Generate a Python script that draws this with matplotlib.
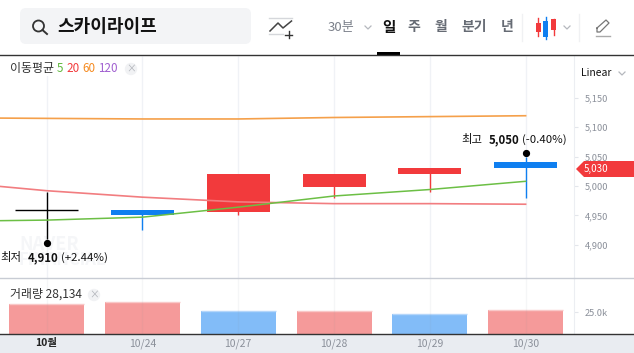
import matplotlib
matplotlib.use("Agg")
import matplotlib.pyplot as plt
from matplotlib.patches import FancyBboxPatch, Polygon, Circle, Rectangle
from matplotlib.transforms import offset_copy

plt.rcParams['font.family'] = ['Noto Sans CJK KR', 'DejaVu Sans']

# datos
fechas = ['10월', '10/24', '10/27', '10/28', '10/29', '10/30']
apertura = [4960, 4960, 4955, 4998, 5020, 5040]
cierre = [4960, 4950, 5020, 5020, 5030, 5030]
maximo = [4990, 4960, 5020, 5020, 5030, 5050]
minimo = [4910, 4925, 4950, 4980, 4990, 4980]
volumen = [34900, 36900, 26200, 26500, 23000, 28134]

dias_ma = [-1, 0, 1, 2, 3, 4, 5]
ma5 = [4940, 4942, 4947, 4964, 4983, 4994, 5008]
ma20 = [5007, 4992, 4981, 4973, 4970, 4970, 4969]
ma60 = [5116, 5115, 5114, 5114, 5116.5, 5118, 5119.5]

ticks_precio = [4900, 4950, 5000, 5050, 5100, 5150]
ticks_volumen = [25000]
labels_volumen = ['25.0k']

ROJO = '#f23a3c'
AZUL = '#0f7ff0'
GRIS = '#8b909a'

W, H = 634, 353
fig = plt.figure(figsize=(W / 100, H / 100), dpi=100, facecolor='white')


def caja(x0, y0, x1, y1):
    # pixeles de la imagen a fraccion de figura
    return [x0 / W, 1 - y1 / H, (x1 - x0) / W, (y1 - y0) / H]


# capa de fondo con la interfaz, en pixeles
ui = fig.add_axes([0, 0, 1, 1], zorder=0)
ui.set_xlim(0, W)
ui.set_ylim(H, 0)
ui.axis('off')

ui.add_patch(FancyBboxPatch((26, 14), 219, 24, boxstyle='round,pad=6,rounding_size=6',
                            fc='#f3f4f6', ec='none'))
ui.add_patch(Circle((38.5, 26), 5.5, fc='none', ec='#333333', lw=1.3))
ui.plot([42.5, 47], [30, 34], color='#333333', lw=1.4)
ui.text(57, 27, '스카이라이프', fontsize=13, fontweight='bold', va='center', color='#111111')

# icono de indicador
ui.plot([269, 292], [17.5, 17.5], color='#d5d7db', lw=1)
ui.plot([269, 283], [33.5, 33.5], color='#d5d7db', lw=1)
ui.plot([270, 278, 283, 291.5], [31, 23, 28, 21], color='#444444', lw=1.1)
ui.plot([285, 292], [34.5, 34.5], color='#333333', lw=1)
ui.plot([288.5, 288.5], [31, 38], color='#333333', lw=1)

ui.text(328, 27, '30분', fontsize=9.5, va='center', color='#7b808a')
ui.plot([365, 368, 371], [26, 29, 26], color='#b5b8be', lw=0.9)
ui.text(389, 27, '일', fontsize=10.5, fontweight='bold', ha='center', va='center', color='#111111')
ui.text(413.5, 27, '주', fontsize=10, fontweight='bold', ha='center', va='center', color='#666b74')
ui.text(441, 27, '월', fontsize=10, fontweight='bold', ha='center', va='center', color='#666b74')
ui.text(474, 27, '분기', fontsize=10, fontweight='bold', ha='center', va='center', color='#666b74')
ui.text(507.5, 27, '년', fontsize=10, fontweight='bold', ha='center', va='center', color='#666b74')
ui.plot([521.5, 521.5], [14, 41], color='#f0f1f3', lw=1)
ui.plot([578.5, 578.5], [14, 41], color='#f0f1f3', lw=1)

# icono de velas
ui.plot([538, 538], [18, 36], color=ROJO, lw=1)
ui.add_patch(Rectangle((536, 23), 5, 9, fc=ROJO, ec='none'))
ui.plot([545.5, 545.5], [17, 39], color=AZUL, lw=1)
ui.add_patch(Rectangle((543, 21), 5, 16, fc=AZUL, ec='none'))
ui.plot([553.5, 553.5], [19, 35], color=ROJO, lw=1)
ui.add_patch(Rectangle((551, 19), 5, 11, fc=ROJO, ec='none'))
ui.plot([564, 567, 570], [26, 29, 26], color='#b5b8be', lw=0.9)

# lapiz
ui.plot([596, 610], [35.5, 35.5], color='#aaaaaa', lw=1)
ui.plot([597, 597, 600, 609, 606, 597], [28, 32, 32, 23, 20, 28], color='#777777', lw=0.9)

# franja del eje x
ui.add_patch(Rectangle((0, 333.5), W, H - 333.5, fc='#e9ecf1', ec='none'))

# panel de precios
ax = fig.add_axes(caja(0, 55.5, 574, 278), zorder=1)
ax.patch.set_alpha(0)
px_dia = 95.8
px_precio = 0.588
ax.set_xlim(-46.6 / px_dia, (574 - 46.6) / px_dia)
ax.set_ylim(5000 + (186 - 278) / px_precio, 5000 + (186 - 55.5) / px_precio)

posiciones = list(range(len(fechas)))
ax.vlines(posiciones, *ax.get_ylim(), color='#f0f2f6', lw=1, zorder=0)

# marca de agua
ax.annotate('NAVER', (0, 0), xycoords='axes fraction', xytext=(19, 28), textcoords='offset pixels',
            fontsize=13, fontweight='bold', color='#f5f6f8', zorder=0.5)
ax.annotate('FINANCIAL', (0, 0), xycoords='axes fraction', xytext=(19, 13), textcoords='offset pixels',
            fontsize=12, fontweight='bold', color='#f5f6f8', zorder=0.5)

ancho = 63 / px_dia
for i in posiciones:
    a, c = apertura[i], cierre[i]
    color = 'black' if a == c else (ROJO if c > a else AZUL)
    ax.vlines(i, minimo[i], maximo[i], color=color, lw=1, zorder=2)
    if a == c:
        ax.hlines(a, i - ancho / 2, i + ancho / 2, color=color, lw=1, zorder=2)
    else:
        ax.bar(i, abs(c - a), bottom=min(a, c), width=ancho, color=color, zorder=2)

ax.plot(dias_ma, ma60, color='#f5a04a', lw=1.2, zorder=3)
ax.plot(dias_ma, ma20, color='#f27d80', lw=1.2, zorder=3)
ax.plot(dias_ma, ma5, color='#6cbf45', lw=1.1, zorder=3)

# maximo y minimo de la pantalla
abajo = offset_copy(ax.transData, fig=fig, y=-4.5, units='dots')
arriba = offset_copy(ax.transData, fig=fig, y=3.5, units='dots')
ax.plot(0, min(minimo), 'o', color='black', ms=4.2, transform=abajo, zorder=4)
ax.plot(5, max(maximo), 'o', color='black', ms=4.2, transform=arriba, zorder=4)

for x0, etiqueta, valor, pct, dato, x, dy in [
        (-46, '최저', '4,910', '(+2.44%)', min(minimo), 0, -19),
        (-64, '최고', '5,050', '(-0.40%)', max(maximo), 5, 17)]:
    ax.annotate(etiqueta, (x, dato), xytext=(x0, dy), textcoords='offset pixels', fontsize=8.2,
                va='center', color='#111111', zorder=5)
    ax.annotate(valor, (x, dato), xytext=(x0 + 27, dy), textcoords='offset pixels', fontsize=8.2,
                fontweight='bold', va='center', color='#111111', zorder=5)
    ax.annotate(pct, (x, dato), xytext=(x0 + 60, dy), textcoords='offset pixels', fontsize=8.2,
                va='center', color='#111111', zorder=5)

ax.yaxis.tick_right()
ax.set_yticks(ticks_precio)
ax.set_yticklabels([f'{v:,}' for v in ticks_precio])
ax.tick_params(axis='y', length=3, width=0.8, color='#e3e6eb', labelcolor=GRIS, labelsize=6.7, pad=4.7)
ax.set_xticks([])
for lado in ['top', 'left', 'bottom']:
    ax.spines[lado].set_visible(False)
ax.spines['right'].set_color('#eceef2')

# panel de volumen
ax_v = fig.add_axes(caja(0, 278, 574, 333.5), zorder=1)
ax_v.patch.set_alpha(0)
ax_v.set_xlim(ax.get_xlim())
px_vol = 1190
ax_v.set_ylim(0, 55.5 * px_vol)
ancho_v = 75 / px_dia
colores_v = ['#f59a9a', '#f59a9a', '#82bcf8', '#f59a9a', '#82bcf8', '#f59a9a']
bordes_v = ['#f9c8c8', '#f9c8c8', '#b5d6fa', '#f9c8c8', '#b5d6fa', '#f9c8c8']
ax_v.bar(posiciones, volumen, width=ancho_v, color=colores_v, zorder=1)
for i in posiciones:
    ax_v.hlines(volumen[i], i - ancho_v / 2, i + ancho_v / 2, color=bordes_v[i], lw=1, zorder=1.5)
ax_v.vlines(posiciones, *ax_v.get_ylim(), color='#8a8f99', alpha=0.08, lw=1, zorder=2)

ax_v.yaxis.tick_right()
ax_v.set_yticks(ticks_volumen)
ax_v.set_yticklabels(labels_volumen)
ax_v.tick_params(axis='y', length=3, width=0.8, color='#e3e6eb', labelcolor=GRIS, labelsize=6.7, pad=4.7)
ax_v.set_xticks(posiciones)
ax_v.set_xticklabels(fechas)
ax_v.tick_params(axis='x', length=0, labelsize=7.5, labelcolor=GRIS, pad=3.5)
ax_v.get_xticklabels()[0].set_color('#222222')
ax_v.get_xticklabels()[0].set_fontweight('bold')
for lado in ['top', 'left', 'bottom']:
    ax_v.spines[lado].set_visible(False)
ax_v.spines['right'].set_color('#eceef2')

# capa superior con leyendas y lineas
top = fig.add_axes([0, 0, 1, 1], zorder=3)
top.set_xlim(0, W)
top.set_ylim(H, 0)
top.axis('off')
top.plot([0, W], [55, 55], color='#333333', lw=1)
top.add_patch(Rectangle((377, 52), 23, 3, fc='black', ec='none'))
top.plot([0, W], [278, 278], color='#c8ccd4', lw=1)
top.plot([0, W], [333.5, 333.5], color='#333333', lw=1)

top.add_patch(Rectangle((5, 56), 130, 20, fc='white', ec='none'))
top.text(10, 68.5, '이동평균', fontsize=8.6, va='center', color='#333333')
for x, t, c in [(56.5, '5', '#5fb83c'), (66.5, '20', ROJO), (82.5, '60', '#f58a1f'), (98.5, '120', '#a05fd0')]:
    top.text(x, 68.5, t, fontsize=8.4, va='center', color=c)
top.add_patch(Circle((131, 69), 6.2, fc='#f1f2f4', ec='none'))
top.text(131, 68.5, '×', fontsize=7, ha='center', va='center', color='#b0b3b9')

top.text(9.5, 294.5, '거래량 28,134', fontsize=8.6, va='center', color='#333333')
top.add_patch(Circle((94, 295), 6.2, fc='#f1f2f4', ec='none'))
top.text(94, 294.5, '×', fontsize=7, ha='center', va='center', color='#b0b3b9')

top.text(581, 73, 'Linear', fontsize=7.5, va='center', color='#111111')
top.plot([619, 622, 625], [72, 75, 72], color='#b5b8be', lw=0.9)

# etiqueta del ultimo precio
top.add_patch(Polygon([(576, 169), (584, 161), (634, 161), (634, 177), (584, 177)], fc=ROJO, ec='none'))
top.text(584, 168.5, '5,030', fontsize=7, va='center', color='white')

fig.savefig('out.png', dpi=100)
